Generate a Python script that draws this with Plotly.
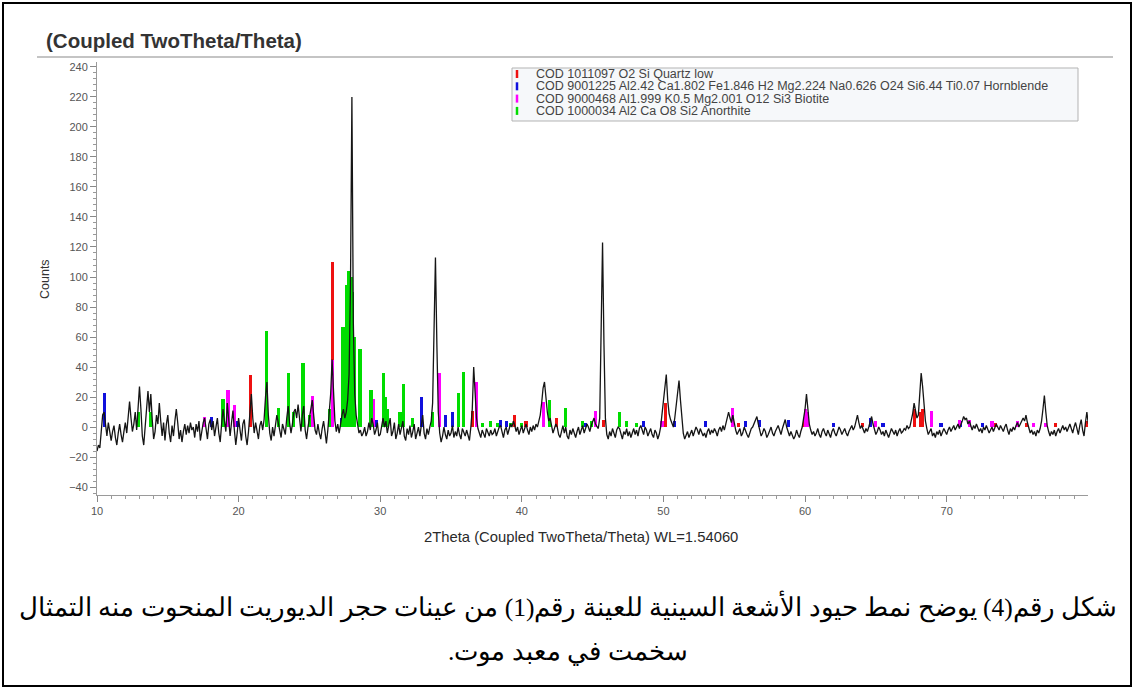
import numpy as np
import plotly.graph_objects as go

# ---- canvas / plot-area geometry (pixels) ----
W, H = 1136, 689
M_L, M_R, M_T, M_B = 97, 48, 62, 194
PLOT_W = W - M_L - M_R
PLOT_H = H - M_T - M_B

# ---- measured diffraction pattern: 2theta from 10 to 80 deg, step 0.1 ----
TWO_THETA_START = 10.0
TWO_THETA_STEP = 0.1
COUNTS = [
    # 10.0 - 11.9
    -16, -12, -14, -4, 8, 10, 2, -6, 3, -2, -9, -3, 1, -7, -12, -4, 2, -5, -10, -3,
    # 12.0 - 13.9
    3, -4, 8, 17, 6, -3, 2, 10, -2, 14, 27, 12, -6, -12, 2, 15, 24, 10, 22, 5,
    # 14.0 - 15.9
    -8, -3, 8, 2, 16, 4, -6, 3, -9, 2, 8, -4, -10, 1, -6, 4, 12, 3, -8, -2,
    # 16.0 - 17.9
    -10, -3, 2, -5, 1, -4, 3, -2, 0, -7, 2, -3, 4, -9, -2, 3, 6, -3, -8, 2,
    # 18.0 - 19.9
    5, -2, 4, -6, 0, 6, -4, -10, 2, 12, 4, -3, 16, 6, -6, 3, 11, -2, -12, -4,
    # 20.0 - 21.9
    6, -2, -9, 2, 5, -6, -12, -3, 8, 22, 6, -4, 3, -3, -8, 1, 4, -2, 5, 20,
    # 22.0 - 23.9
    30, 8, -4, -9, 0, -6, 2, 8, 3, -3, -7, 2, -2, -5, 6, 14, 3, -4, 2, 10,
    # 24.0 - 25.9
    12, 6, 15, 4, -3, 8, 14, -2, -8, 0, 6, 12, 18, 8, -2, -5, 2, -4, -8, -1,
    # 26.0 - 27.9
    4, -3, -11, -2, 8, 22, 45, 20, 4, -3, 2, -4, 3, 8, 12, 6, 10, 18, 35, 95,
    # 28.0 - 29.9
    220, 70, 22, 8, 2, -4, -2, -6, -4, 0, -6, -3, 3, -2, 6, 2, -5, -2, 3, -6,
    # 30.0 - 31.9
    -5, 2, 6, 0, 4, -4, 1, 6, -6, -3, 3, -8, -4, 2, -5, 0, 4, -6, -9, -1,
    # 32.0 - 33.9
    -5, 1, -7, -3, 2, -8, -4, 0, -6, 2, 8, -4, -8, -1, -5, 0, 4, 16, 60, 113,
    # 34.0 - 35.9
    55, 10, -4, -10, -6, 0, -5, -8, -2, -6, -4, 1, -7, -3, -6, 0, -5, -8, -1, -4,
    # 36.0 - 37.9
    -6, -2, -5, -9, 0, 12, 40, 20, 6, -1, -5, -7, -2, -4, -7, -1, -3, -6, -2, -5,
    # 38.0 - 39.9
    -4, -1, -6, -3, 0, 1, -4, -7, -2, 0, -5, -1, 2, 0, 4, 1, -3, 0, -5, -2,
    # 40.0 - 41.9
    1, -4, -1, 2, -2, -5, 0, -3, 1, -2, 2, 0, 4, 8, 16, 26, 30, 19, 10, 4,
    # 42.0 - 43.9
    6, 1, -4, -1, 2, 0, -5, -7, -2, 1, -4, 0, -6, -8, -2, -5, -1, -4, -7, -3,
    # 44.0 - 45.9
    0, -5, -2, 1, -4, -1, 2, 0, -3, 1, 4, 6, 2, 0, -1, 6, 60, 123, 55, 6,
    # 46.0 - 47.9
    -5, -8, -3, -6, -1, -4, -7, -2, 0, -1, -5, -8, -3, -5, -1, -6, -3, -7, -4, -1,
    # 48.0 - 49.9
    -5, -2, -6, -1, 1, -3, -5, 0, -2, -6, -3, -1, -5, -7, -2, -4, -8, -5, 0, 10,
    # 50.0 - 51.9
    18, 27, 35, 18, 9, 5, 3, 0, 6, 16, 22, 31, 18, 4, -4, -8, -6, -3, -7, -4,
    # 52.0 - 53.9
    -2, -6, -3, 0, -2, -5, -1, -3, -6, -4, -7, -3, -1, -5, -2, -4, -1, -3, -6, -2,
    # 54.0 - 55.9
    0, -3, 1, -2, 2, 4, 10, 6, 3, 8, 2, -2, -5, -3, -1, -6, -4, 0, -3, -5,
    # 56.0 - 57.9
    -7, -4, -1, 0, 2, 4, 7, 2, -3, -6, -4, -1, -3, -7, -5, -2, 0, -4, -6, -3,
    # 58.0 - 59.9
    -1, 1, -2, -5, -1, 2, 5, 0, -4, -6, -3, -5, -8, -6, -2, -5, -7, -3, 0, 6,
    # 60.0 - 61.9
    12, 22, 10, 2, -2, -5, -3, -6, -4, -1, -5, -7, -3, -1, -4, -6, -2, -5, -7, -3,
    # 62.0 - 63.9
    -1, -4, -6, -3, 0, -2, -5, -3, -1, -4, -6, -3, -1, 1, -2, 0, 4, 8, 3, -1,
    # 64.0 - 65.9
    1, -2, -4, -1, -3, 0, 3, 7, 2, -2, -5, -3, 0, -2, -5, -3, -6, -2, -4, -7,
    # 66.0 - 67.9
    -4, -1, -3, -5, -2, -6, -3, -1, -4, -3, -1, -2, 1, -1, 0, 4, 9, 16, 11, 6,
    # 68.0 - 69.9
    8, 22, 36, 27, 13, 4, -1, -5, -3, -1, -6, -4, -7, -3, -5, -2, -6, -4, -1, -3,
    # 70.0 - 71.9
    -5, -2, 0, -3, -1, 1, -2, 0, 2, -1, 1, 4, 7, 5, 6, 2, 4, 0, -2, 1,
    # 72.0 - 73.9
    -1, 2, 0, -3, -1, -4, 0, -2, 1, -1, -4, -2, 0, -3, -1, 2, 0, -2, 1, -1,
    # 74.0 - 75.9
    -3, 0, 2, -2, -5, -1, -3, 0, -2, 1, 3, 0, 2, 5, 6, 4, 8, 3, -1, -4,
    # 76.0 - 77.9
    -2, -5, -3, -6, -2, -4, -1, 4, 12, 21, 10, 1, -3, -6, -3, -5, -2, -6, -3, -1,
    # 78.0 - 79.9
    -4, -1, 1, -2, 0, -3, -1, 2, -1, -4, 0, 3, -1, -5, 1, 5, -2, -6, 3, 10,
    # 80.0
    2,
]

# ---- reference phase stick patterns (COD entries) ----
PHASE_NAMES = [
    "COD 1011097 O2 Si Quartz low",
    "COD 9001225 Al2.42 Ca1.802 Fe1.846 H2 Mg2.224 Na0.626 O24 Si6.44 Ti0.07 Hornblende",
    "COD 9000468 Al1.999 K0.5 Mg2.001 O12 Si3 Biotite",
    "COD 1000034 Al2 Ca O8 Si2 Anorthite",
]
PHASE_COLORS = ["#ee1111", "#1010dd", "#ff00ff", "#00dd00"]

QUARTZ_2THETA = [20.86, 26.64, 36.54, 39.47, 40.29, 42.45, 45.79, 50.14, 54.87, 55.33,
                 59.96, 64.04, 67.74, 68.14, 68.32, 73.47, 75.66, 77.67, 79.88]
QUARTZ_I = [35, 110, 11, 8, 4, 6, 5, 16, 6, 3, 5, 3, 12, 10, 12, 3, 3, 3, 4]

HORNBLENDE_2THETA = [10.5, 18.1, 19.9, 27.3, 28.6, 29.7, 32.9, 34.6, 35.1, 38.5, 38.9,
                     44.5, 48.6, 50.8, 53.0, 55.8, 56.8, 58.8, 62.0, 64.6, 65.5, 69.6,
                     71.0, 72.5]
HORNBLENDE_I = [23, 7, 4, 6, 8, 5, 20, 8, 10, 5, 4, 3, 4, 4, 4, 4, 5, 5, 3, 6, 3, 3, 4, 3]

BIOTITE_2THETA = [17.6, 19.25, 19.7, 25.2, 26.6, 29.5, 34.2, 36.8, 41.5, 45.2, 49.9,
                  54.9, 60.05, 60.2, 65.0, 68.9, 70.9, 71.6, 73.2, 75.0, 76.1, 77.0]
BIOTITE_I = [7, 25, 15, 21, 45, 19, 36, 30, 17, 11, 4, 13, 12, 10, 4, 11, 5, 5, 4, 4, 3, 3]

ANORTHITE_2THETA = [12.9, 13.75, 18.9, 21.95, 22.8, 23.55, 23.9, 24.55, 25.0, 26.4,
                    27.37, 27.65, 27.75, 27.85, 27.95, 28.05, 28.2, 28.57, 29.35, 30.2,
                    30.35, 30.5, 31.4, 31.62, 32.3, 33.7, 35.5, 35.85, 37.2, 37.8,
                    38.3, 39.2, 40.0, 41.95, 43.1, 44.3, 44.9, 46.9, 47.4, 48.1]
ANORTHITE_I = [10, 10, 19, 64, 13, 36, 10, 43, 8, 12, 67, 95, 104, 104, 100, 90, 60,
               52, 25, 36, 20, 12, 10, 29, 6, 10, 23, 37, 3, 4, 3, 3, 3, 18, 13, 4,
               4, 10, 4, 3]

PHASE_POS = [QUARTZ_2THETA, HORNBLENDE_2THETA, BIOTITE_2THETA, ANORTHITE_2THETA]
PHASE_INT = [QUARTZ_I, HORNBLENDE_I, BIOTITE_I, ANORTHITE_I]

# ---- axis ranges ----
X_RANGE = [10, 79.98]
Y_RANGE = [-45.3, 243.3]

TITLE = "(Coupled TwoTheta/Theta)"
X_TITLE = "2Theta (Coupled TwoTheta/Theta) WL=1.54060"
Y_TITLE = "Counts"
CAPTION_1 = "شكل رقم(4) يوضح نمط حيود الأشعة السينية للعينة رقم(1) من عينات حجر الديوريت المنحوت منه التمثال"
CAPTION_2 = "سخمت في معبد موت." + "\u200f"

SANS = "Arial, 'Liberation Sans', sans-serif"
SERIF = "'Times New Roman', 'Liberation Serif', 'DejaVu Serif', serif"


def px_x(px):
    return (px - M_L) / PLOT_W


def px_y(py):
    return (H - M_B - py) / PLOT_H


two_theta = TWO_THETA_START + TWO_THETA_STEP * np.arange(len(COUNTS))

fig = go.Figure()

# phase sticks sit under the measured curve
for pos, inten, col, name in zip(PHASE_POS, PHASE_INT, PHASE_COLORS, PHASE_NAMES):
    fig.add_trace(go.Bar(
        x=pos, y=inten, width=0.22, name=name,
        marker=dict(color=col, line=dict(width=0)),
        showlegend=False, hoverinfo="x+y+name",
    ))

fig.add_trace(go.Scatter(
    x=two_theta, y=COUNTS, mode="lines", name="Sample 1",
    line=dict(color="#151515", width=1.3), showlegend=False,
))

shapes = [
    # page frame
    dict(type="rect", xref="paper", yref="paper",
         x0=px_x(3), x1=px_x(1131), y0=px_y(686), y1=px_y(3),
         line=dict(color="black", width=2), fillcolor="rgba(0,0,0,0)"),
    # rule under the title
    dict(type="line", xref="paper", yref="paper",
         x0=px_x(37), x1=px_x(1113), y0=px_y(57), y1=px_y(57),
         line=dict(color="#c4c4c4", width=2)),
    # phase list box
    dict(type="rect", xref="paper", yref="paper",
         x0=px_x(512), x1=px_x(1078), y0=px_y(121), y1=px_y(68),
         line=dict(color="#b3b3b3", width=1), fillcolor="#f6f8fa"),
]

annotations = [
    dict(text="<b>" + TITLE + "</b>", xref="paper", yref="paper",
         x=px_x(44), y=px_y(40), xanchor="left", yanchor="middle", showarrow=False,
         font=dict(family=SANS, size=20.5, color="#333333")),
    dict(text=Y_TITLE, xref="paper", yref="paper", textangle=-90,
         x=px_x(45), y=px_y(279), xanchor="center", yanchor="middle", showarrow=False,
         font=dict(family=SANS, size=12.5, color="#333333")),
    dict(text=X_TITLE, xref="paper", yref="paper",
         x=px_x(581), y=px_y(537), xanchor="center", yanchor="middle", showarrow=False,
         font=dict(family=SANS, size=14.8, color="#2a2a2a")),
    dict(text=CAPTION_1, xref="paper", yref="paper",
         x=px_x(568), y=px_y(606), xanchor="center", yanchor="middle", showarrow=False,
         font=dict(family=SERIF, size=25.5, color="black")),
    dict(text=CAPTION_2, xref="paper", yref="paper",
         x=px_x(568), y=px_y(652), xanchor="center", yanchor="middle", showarrow=False,
         font=dict(family=SERIF, size=25.5, color="black")),
]

# phase list entries
for i, (name, col) in enumerate(zip(PHASE_NAMES, PHASE_COLORS)):
    cy = 74 + i * 12.3
    shapes.append(dict(type="line", xref="paper", yref="paper",
                       x0=px_x(517), x1=px_x(517), y0=px_y(cy + 4), y1=px_y(cy - 4),
                       line=dict(color=col, width=2.5)))
    annotations.append(dict(text=name, xref="paper", yref="paper",
                            x=px_x(534), y=px_y(cy), xanchor="left", yanchor="middle",
                            showarrow=False,
                            font=dict(family=SANS, size=12.5, color="#444444")))

fig.update_layout(
    width=W, height=H,
    margin=dict(l=M_L, r=M_R, t=M_T, b=M_B, pad=0),
    paper_bgcolor="white", plot_bgcolor="white",
    barmode="overlay", bargap=0,
    showlegend=False,
    shapes=shapes, annotations=annotations,
    xaxis=dict(
        range=X_RANGE, tick0=10, dtick=10, ticks="outside", ticklen=6,
        tickcolor="#888888", showline=True, linecolor="#9a9a9a", linewidth=1,
        showgrid=False, zeroline=False,
        tickfont=dict(family=SANS, size=11, color="#555555"),
        minor=dict(dtick=1, tick0=10, ticks="outside", ticklen=3, tickcolor="#999999",
                   showgrid=False),
    ),
    yaxis=dict(
        range=Y_RANGE, tick0=0, dtick=20, ticks="outside", ticklen=6,
        tickcolor="#888888", showline=True, linecolor="#9a9a9a", linewidth=1,
        showgrid=False, zeroline=False,
        tickfont=dict(family=SANS, size=11, color="#555555"),
        minor=dict(dtick=4, tick0=0, ticks="outside", ticklen=3, tickcolor="#999999",
                   showgrid=False),
    ),
)

fig.write_html("out.html")
